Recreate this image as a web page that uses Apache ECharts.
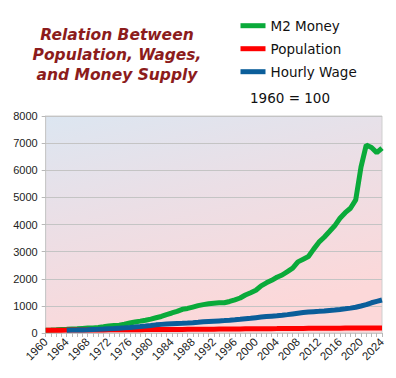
<!DOCTYPE html>
<html>
<head>
<meta charset="utf-8">
<script src="https://cdn.jsdelivr.net/npm/echarts@6/dist/echarts.min.js"></script>
<style>html,body{margin:0;padding:0;background:#fff}#c{width:396px;height:378px}</style>
</head>
<body>
<div id="c"></div>
<script>
var years = ['1960','1961','1962','1963','1964','1965','1966','1967','1968','1969',
  '1970','1971','1972','1973','1974','1975','1976','1977','1978','1979',
  '1980','1981','1982','1983','1984','1985','1986','1987','1988','1989',
  '1990','1991','1992','1993','1994','1995','1996','1997','1998','1999',
  '2000','2001','2002','2003','2004','2005','2006','2007','2008','2009',
  '2010','2011','2012','2013','2014','2015','2016','2017','2018','2019',
  '2020','2021','2022','2023','2024'];

var m2Money = [100,107,116,126,136,147,154,168,181,188,
  201,227,257,274,289,325,369,407,437,472,
  512,562,610,680,738,798,873,905,957,1009,
  1047,1079,1096,1112,1116,1162,1222,1291,1401,1485,
  1576,1739,1850,1942,2054,2139,2264,2392,2622,2720,
  2818,3092,3348,3532,3740,3952,4232,4436,4600,4907,
  6118,6927,6837,6650,6820];

var population = [100,102,103,105,106,108,109,110,111,112,
  114,115,116,117,118,120,121,122,123,125,
  126,127,128,129,130,132,133,134,135,137,
  138,140,142,144,146,147,149,151,153,154,
  156,158,159,161,162,164,165,167,168,170,
  171,172,174,175,176,177,179,180,181,182,
  183,184,184,185,186];

var hourlyWage = [null,null,null,null,102,106,110,115,122,130,
  137,147,158,167,179,191,204,220,237,256,
  276,300,318,331,343,353,360,369,381,396,
  412,424,435,446,457,470,486,505,525,544,
  566,587,605,621,634,651,677,704,730,752,
  770,785,798,813,833,850,870,891,917,949,
  997,1047,1114,1168,1216];

var yTicks = [0,1000,2000,3000,4000,5000,6000,7000,8000];
var seriesNames = ['M2 Money','Population','Hourly Wage'];
var titleText = 'Relation Between\nPopulation, Wages,\nand Money Supply';
var baseNote = '1960 = 100';

var chart = echarts.init(document.getElementById('c'), null, {renderer:'svg'});
chart.setOption({
  animation:false,
  backgroundColor:'#ffffff',
  graphic:[
    {type:'text', x:117, y:54.5, style:{text:titleText, fill:'#8c1c1c',
      font:'italic bold 15.5px "DejaVu Sans"', textAlign:'center', textVerticalAlign:'middle', lineHeight:20}},
    {type:'text', x:250, y:97.5, style:{text:baseNote, fill:'#111',
      font:'13.5px "DejaVu Sans"', textAlign:'left', textVerticalAlign:'middle'}}
  ],
  legend:{
    orient:'vertical', left:240.5, top:18.7, itemGap:9, padding:0,
    itemWidth:25, itemHeight:5, icon:'rect',
    textStyle:{fontFamily:'DejaVu Sans', fontSize:13.5, color:'#111'},
    data:seriesNames
  },
  grid:{left:45.7, right:14, top:116, bottom:45, show:true,
    borderColor:'#cfcfcf', borderWidth:1,
    backgroundColor:{type:'linear', x:0, y:0, x2:0.35, y2:1,
      colorStops:[{offset:0,color:'#dce6f1'},{offset:0.45,color:'#ebdfe6'},{offset:1,color:'#fcd8d9'}]}},
  xAxis:{type:'category', data:years, boundaryGap:false,
    axisLine:{lineStyle:{color:'#c8c8c8'}},
    axisTick:{show:true, interval:0, length:4, lineStyle:{color:'#b8b8b8'}},
    axisLabel:{interval:3, rotate:45, fontFamily:'Liberation Sans', fontSize:11.5, color:'#222', margin:7},
    splitLine:{show:false}},
  yAxis:{type:'value', min:0, max:8000, interval:1000,
    axisLine:{show:true, lineStyle:{color:'#c8c8c8'}},
    axisTick:{show:true, length:4, lineStyle:{color:'#b8b8b8'}},
    axisLabel:{fontFamily:'Liberation Sans', fontSize:11, color:'#222', margin:8,
      formatter:function(v){return yTicks.indexOf(v)>=0?String(v):'';}},
    splitLine:{lineStyle:{color:'#c4c4c4', width:1}}},
  series:[
    {name:seriesNames[0], type:'line', data:m2Money, showSymbol:false, symbol:'none',
      lineStyle:{width:5, color:'#0aaa3a'}, itemStyle:{color:'#0aaa3a'}},
    {name:seriesNames[1], type:'line', data:population, showSymbol:false, symbol:'none',
      lineStyle:{width:5, color:'#ff0000'}, itemStyle:{color:'#ff0000'}},
    {name:seriesNames[2], type:'line', data:hourlyWage, showSymbol:false, symbol:'none',
      lineStyle:{width:5, color:'#0b5e9a'}, itemStyle:{color:'#0b5e9a'}}
  ]
});
</script>
</body>
</html>
